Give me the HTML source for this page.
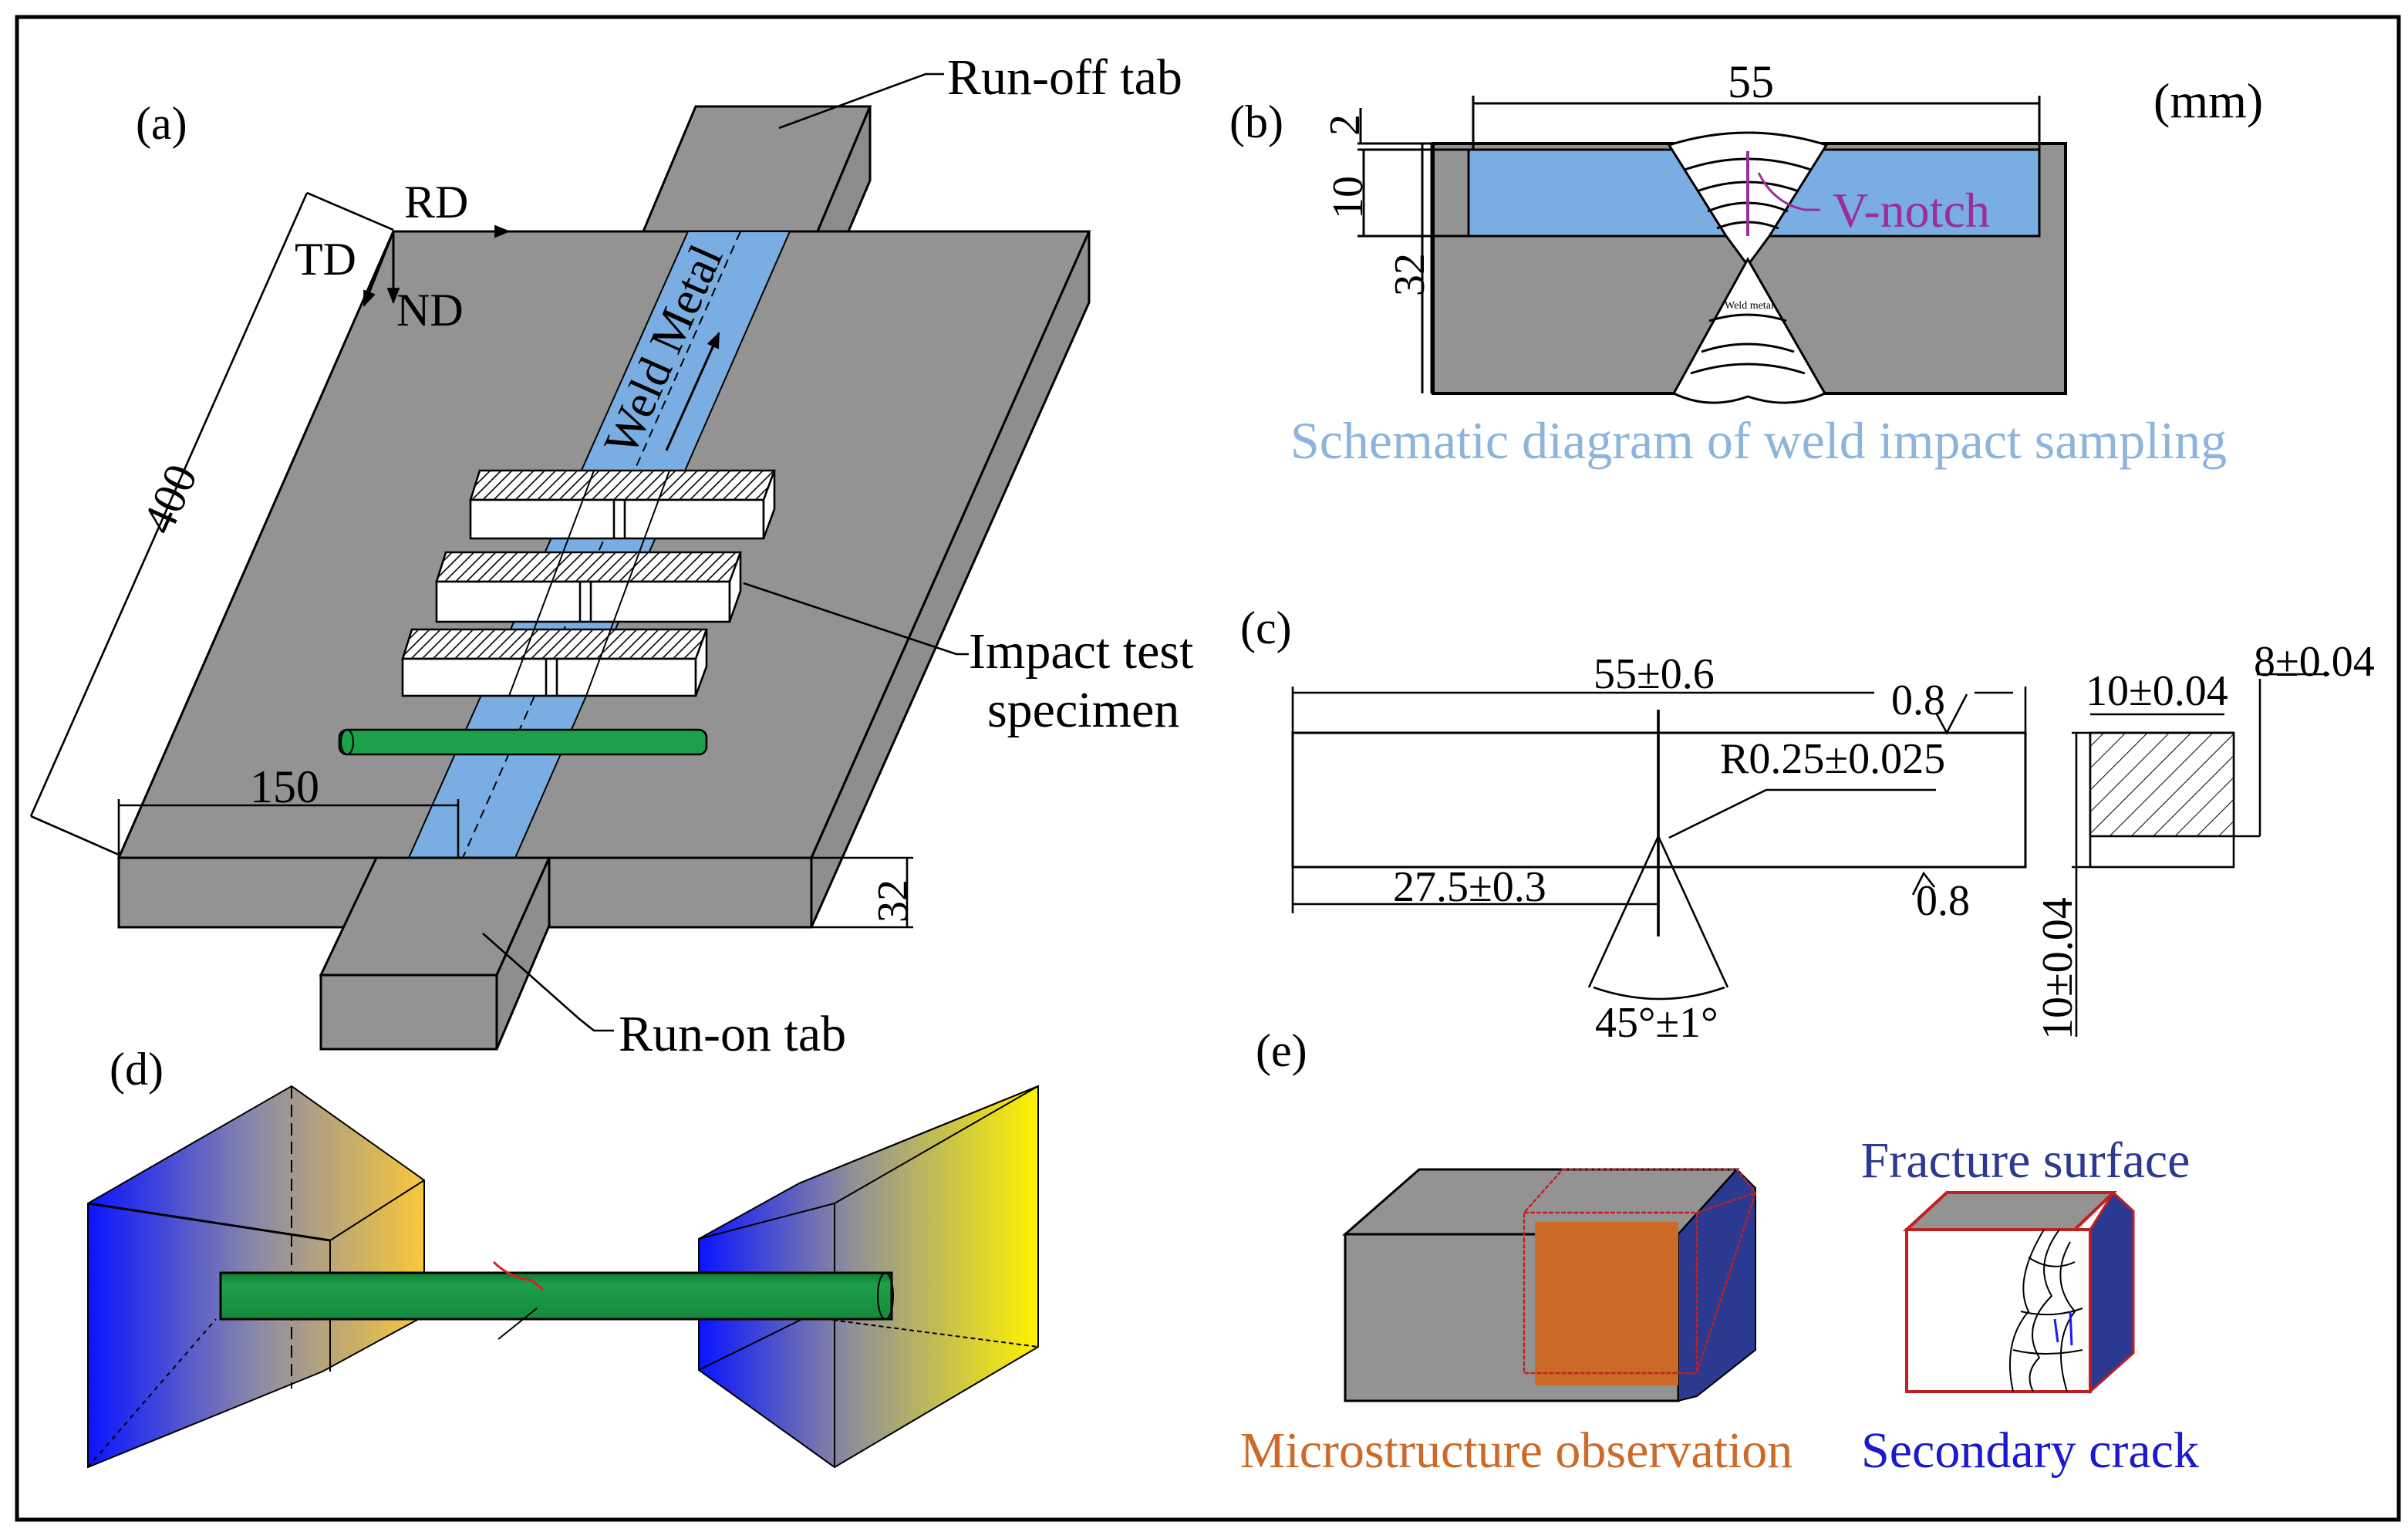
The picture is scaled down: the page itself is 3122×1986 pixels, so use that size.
<!DOCTYPE html>
<html><head><meta charset="utf-8"><style>
html,body{margin:0;padding:0;background:#fff}
svg{display:block}
text{font-family:"Liberation Serif",serif;}
</style></head><body>
<svg width="3122" height="1986" viewBox="0 0 1561 993" xmlns="http://www.w3.org/2000/svg">
<defs>
<pattern id="h" width="5" height="5" patternUnits="userSpaceOnUse" patternTransform="rotate(45)"><rect width="5" height="5" fill="#fff"/><line x1="0" y1="0" x2="0" y2="5" stroke="#000" stroke-width="1.6"/></pattern>
<pattern id="h2" width="10" height="10" patternUnits="userSpaceOnUse" patternTransform="rotate(45)"><rect width="10" height="10" fill="#fff"/><line x1="0" y1="0" x2="0" y2="10" stroke="#000" stroke-width="1"/></pattern>
<linearGradient id="g1" x1="0" x2="1" y1="0" y2="0"><stop offset="0" stop-color="#0a14ff"/><stop offset="0.5" stop-color="#8a8aa8"/><stop offset="1" stop-color="#f8c83a"/></linearGradient>
<linearGradient id="g2" x1="0" x2="1" y1="0" y2="0"><stop offset="0" stop-color="#0a14ff"/><stop offset="0.45" stop-color="#8f8f9a"/><stop offset="1" stop-color="#fff200"/></linearGradient>
<linearGradient id="rod" x1="0" x2="0" y1="0" y2="1"><stop offset="0" stop-color="#0f7a30"/><stop offset="0.25" stop-color="#1da04a"/><stop offset="1" stop-color="#168a3c"/></linearGradient>
<marker id="ar" viewBox="0 0 10 10" refX="9" refY="5" markerWidth="7" markerHeight="7" orient="auto"><path d="M0,1 L10,5 L0,9 z" fill="#000"/></marker>
</defs>
<rect x="11" y="11" width="1544" height="974" fill="#fff" stroke="#000" stroke-width="2.5"/>

<!-- (a) -->
<text x="88" y="90" font-size="30">(a)</text>
<polygon points="451,69 564,69 530,150 417,150" fill="#939393" stroke="#000" stroke-width="1.5"/>
<polygon points="564,69 564,117 550,150 530,150" fill="#8c8c8c" stroke="#000" stroke-width="1.5"/>
<polygon points="255,150 706,150 526,556 77,556" fill="#939393" stroke="#000" stroke-width="1.5"/>
<polygon points="706,150 706,196 526,601 526,556" fill="#8e8e8e" stroke="#000" stroke-width="1.5"/>
<rect x="77" y="556" width="449" height="45" fill="#939393" stroke="#000" stroke-width="1.5"/>
<polygon points="446,150 512,150 334,556 265,556" fill="#7aaee2" stroke="#000" stroke-width="1"/>
<line x1="480" y1="150" x2="300" y2="556" stroke="#000" stroke-width="1" stroke-dasharray="6,4"/>
<text transform="translate(410,297) rotate(-66)" font-size="31">Weld Metal</text>
<line x1="432" y1="292" x2="466" y2="216" stroke="#000" stroke-width="1.5" marker-end="url(#ar)"/>
<g stroke="#000" stroke-width="1.3">
<polygon points="311,305 502,305 496,324 305,324" fill="url(#h)"/>
<rect x="305" y="324" width="190" height="25" fill="#fff"/>
<polygon points="502,305 502,330 495,349 495,324" fill="#fff"/>
<line x1="398" y1="324" x2="398" y2="349"/><line x1="405" y1="324" x2="405" y2="349"/>
<polygon points="289,358 480,358 474,377 283,377" fill="url(#h)"/>
<rect x="283" y="377" width="190" height="26" fill="#fff"/>
<polygon points="480,358 480,383 473,403 473,377" fill="#fff"/>
<line x1="376" y1="377" x2="376" y2="403"/><line x1="383" y1="377" x2="383" y2="403"/>
<polygon points="267,408 458,408 452,427 261,427" fill="url(#h)"/>
<rect x="261" y="427" width="190" height="24" fill="#fff"/>
<polygon points="458,408 458,432 451,451 451,427" fill="#fff"/>
<line x1="354" y1="427" x2="354" y2="451"/><line x1="361" y1="427" x2="361" y2="451"/>
</g>
<g stroke="#000" stroke-width="1"><line x1="385" y1="305" x2="330" y2="451"/><line x1="434" y1="305" x2="380" y2="451"/></g>
<rect x="220" y="473" width="238" height="16" rx="5" fill="#1da04a" stroke="#000" stroke-width="1.3"/>
<ellipse cx="225" cy="481" rx="4" ry="8" fill="none" stroke="#000"/>
<polygon points="244,556 356,556 322,632 208,632" fill="#939393" stroke="#000" stroke-width="1.5"/>
<polygon points="356,556 356,600 322,680 322,632" fill="#8e8e8e" stroke="#000" stroke-width="1.5"/>
<rect x="208" y="632" width="114" height="48" fill="#939393" stroke="#000" stroke-width="1.5"/>
<g stroke="#000" stroke-width="1.3" fill="none">
<line x1="199" y1="125" x2="20" y2="529"/>
<line x1="199" y1="125" x2="255" y2="149"/>
<line x1="20" y1="529" x2="77" y2="554"/>
<line x1="77" y1="522" x2="297" y2="522"/>
<line x1="77" y1="518" x2="77" y2="556"/><line x1="297" y1="518" x2="297" y2="556"/>
<line x1="526" y1="556" x2="592" y2="556"/><line x1="526" y1="601" x2="592" y2="601"/>
<line x1="588" y1="556" x2="588" y2="601"/>
<line x1="255" y1="150" x2="330" y2="150" stroke-width="1.5" marker-end="url(#ar)"/>
<line x1="255" y1="150" x2="255" y2="196" stroke-width="1.5" marker-end="url(#ar)"/>
<line x1="255" y1="150" x2="236" y2="198" stroke-width="1.5" marker-end="url(#ar)"/>
<polyline points="505,83 600,48 612,48"/>
<polyline points="482,378 620,424 628,424"/>
<polyline points="313,605 375,660 385,668 398,668"/>
</g>
<text transform="translate(110,348) rotate(-66)" font-size="30">400</text>
<text x="162" y="520" font-size="30">150</text>
<text transform="translate(588,598) rotate(-90)" font-size="28">32</text>
<text x="262" y="141" font-size="30">RD</text>
<text x="191" y="178" font-size="30">TD</text>
<text x="257" y="211" font-size="30">ND</text>
<text x="614" y="61" font-size="33">Run-off tab</text>
<text x="628" y="433" font-size="33">Impact test</text>
<text x="640" y="471" font-size="33">specimen</text>
<text x="401" y="681" font-size="33">Run-on tab</text>

<!-- (b) -->
<text x="797" y="89" font-size="30">(b)</text>
<text x="1396" y="76" font-size="32">(mm)</text>
<rect x="929" y="93" width="410" height="162" fill="#939393" stroke="#000" stroke-width="2"/>
<rect x="952" y="97" width="370" height="56" fill="#7aaee2" stroke="#000" stroke-width="1.5"/>
<g stroke="#000" stroke-width="1.5" fill="#fff">
<path d="M1082,94 Q1133,78 1184,94 L1147,153 L1133,172 L1119,153 Z"/>
<path d="M1133,168 L1183,255 Q1160,266 1133,257 Q1108,266 1085,255 Z"/>
</g>
<g stroke="#000" stroke-width="1.5" fill="none">
<path d="M1092,110 Q1133,96 1174,110"/><path d="M1100,124 Q1133,112 1166,124"/>
<path d="M1107,137 Q1133,126 1159,137"/><path d="M1113,148 Q1133,140 1153,148"/>
<path d="M1103,228 Q1133,218 1163,228"/><path d="M1096,242 Q1133,230 1170,242"/>
<path d="M1108,208 Q1133,200 1158,208"/>
<line x1="955" y1="67" x2="1322" y2="67"/><line x1="955" y1="62" x2="955" y2="97"/><line x1="1322" y1="62" x2="1322" y2="97"/>
<line x1="880" y1="93" x2="929" y2="93"/><line x1="880" y1="97" x2="952" y2="97"/><line x1="880" y1="153" x2="952" y2="153"/>
<line x1="884" y1="97" x2="884" y2="153"/><line x1="882" y1="70" x2="882" y2="93"/>
<line x1="922" y1="93" x2="922" y2="255"/><line x1="928" y1="93" x2="928" y2="255"/>
</g>
<text x="1118" y="200" font-size="7">Weld metal</text>
<line x1="1133" y1="98" x2="1133" y2="153" stroke="#9b2d9b" stroke-width="2"/>
<path d="M1140,112 Q1150,132 1170,136 L1180,136" stroke="#9b2d9b" stroke-width="1.5" fill="none"/>
<text x="1188" y="147" font-size="32" fill="#9b2d9b">V-notch</text>
<text x="1120" y="63" font-size="30">55</text>
<text transform="translate(881,88) rotate(-90)" font-size="28">2</text>
<text transform="translate(883,142) rotate(-90)" font-size="28">10</text>
<text transform="translate(923,192) rotate(-90)" font-size="28">32</text>
<text x="1140" y="297" font-size="34" fill="#8cb4dc" text-anchor="middle">Schematic diagram of weld impact sampling</text>

<!-- (c) -->
<text x="804" y="417" font-size="30">(c)</text>
<rect x="838" y="475" width="475" height="87" fill="#fff" stroke="#000" stroke-width="1.5"/>
<g stroke="#000" stroke-width="1.3" fill="none">
<line x1="838" y1="449" x2="1215" y2="449"/><line x1="1280" y1="449" x2="1305" y2="449"/>
<line x1="838" y1="445" x2="838" y2="475"/><line x1="1313" y1="445" x2="1313" y2="475"/>
<line x1="1075" y1="460" x2="1075" y2="607" stroke-width="1.8"/>
<line x1="1075" y1="542" x2="1030" y2="640"/><line x1="1075" y1="542" x2="1120" y2="640"/>
<path d="M1033,640 Q1076,655 1118,640"/>
<polyline points="1255,512 1145,512 1082,543"/>
<line x1="838" y1="586" x2="1075" y2="586"/><line x1="838" y1="562" x2="838" y2="592"/>
<path d="M1255,462 L1262,475 L1275,450"/>
<path d="M1240,580 L1247,566 L1254,575"/>
<rect x="1355" y="475" width="93" height="87" fill="#fff"/>
<rect x="1355" y="475" width="93" height="67" fill="url(#h2)"/>
<line x1="1355" y1="463" x2="1442" y2="463"/>
<line x1="1343" y1="475" x2="1448" y2="475"/><line x1="1343" y1="562" x2="1355" y2="562"/>
<line x1="1346" y1="475" x2="1346" y2="672"/>
<line x1="1465" y1="440" x2="1465" y2="542"/><line x1="1463" y1="437" x2="1510" y2="437"/>
<line x1="1448" y1="542" x2="1465" y2="542"/>
</g>
<text x="1033" y="446" font-size="28">55±0.6</text>
<text x="1226" y="463" font-size="28">0.8</text>
<text x="1115" y="501" font-size="28">R0.25±0.025</text>
<text x="903" y="584" font-size="28">27.5±0.3</text>
<text x="1242" y="593" font-size="28">0.8</text>
<text x="1034" y="672" font-size="28">45°±1°</text>
<text x="1352" y="457" font-size="28">10±0.04</text>
<text x="1461" y="438" font-size="28">8±0.04</text>
<text transform="translate(1343,674) rotate(-90)" font-size="28">10±0.04</text>

<!-- (d) -->
<text x="71" y="703" font-size="30">(d)</text>
<polygon points="57,780 189,704 275,765 275,853 209,889 57,951" fill="url(#g1)" stroke="#000" stroke-width="1"/>
<g stroke="#000" stroke-width="1" fill="none">
<line x1="57" y1="780" x2="214" y2="804" stroke-width="1.5"/>
<line x1="214" y1="804" x2="275" y2="765"/>
<line x1="189" y1="704" x2="189" y2="900" stroke-dasharray="8,4"/>
<line x1="214" y1="804" x2="214" y2="889"/>
<line x1="57" y1="951" x2="140" y2="855" stroke-dasharray="3,3"/>
</g>
<polygon points="453,803 518,767 673,704 673,873 541,951 453,888" fill="url(#g2)" stroke="#000" stroke-width="1"/>
<g stroke="#000" stroke-width="1" fill="none">
<line x1="453" y1="803" x2="541" y2="780"/><line x1="541" y1="780" x2="673" y2="704"/>
<line x1="518" y1="767" x2="673" y2="704"/>
<line x1="541" y1="780" x2="541" y2="951"/>
<line x1="453" y1="888" x2="520" y2="855"/>
<line x1="535" y1="855" x2="673" y2="873" stroke-dasharray="3,2"/>
</g>
<rect x="143" y="825" width="435" height="30" fill="url(#rod)" stroke="#000" stroke-width="1.5"/>
<ellipse cx="574" cy="840" rx="5" ry="15" fill="none" stroke="#000"/>
<path d="M320,818 Q330,828 345,830 L352,836" stroke="#d42020" stroke-width="1.5" fill="none"/>
<line x1="323" y1="868" x2="348" y2="848" stroke="#000"/>

<!-- (e) -->
<text x="814" y="691" font-size="30">(e)</text>
<polygon points="920,758 1126,758 1088,800 872,800" fill="#939393" stroke="#000" stroke-width="1.5"/>
<rect x="872" y="800" width="216" height="108" fill="#939393" stroke="#000" stroke-width="1.5"/>
<polygon points="1126,758 1138,770 1138,875 1100,905 1088,908 1088,800" fill="#2b3990" stroke="#000" stroke-width="1"/>
<rect x="995" y="792" width="93" height="106" fill="#cc6a28"/>
<g stroke="#c02020" stroke-width="1.2" fill="none" stroke-dasharray="3,1">
<polygon points="1013,758 1126,758 1138,773 1100,890 988,890 988,786 1013,758"/>
<line x1="988" y1="786" x2="1100" y2="786"/><line x1="1100" y1="786" x2="1138" y2="773"/>
<line x1="1100" y1="786" x2="1100" y2="890"/>
</g>
<polygon points="1262,773 1370,773 1345,797 1236,797" fill="#939393" stroke="#c02020" stroke-width="2"/>
<rect x="1236" y="797" width="119" height="105" fill="#fff" stroke="#c02020" stroke-width="2"/>
<polygon points="1370,773 1383,785 1383,877 1355,902 1355,797" fill="#2b3990" stroke="#c02020" stroke-width="1.5"/>
<g stroke="#000" stroke-width="1" fill="none">
<path d="M1325,797 Q1305,830 1315,850 Q1298,870 1305,902"/>
<path d="M1335,797 Q1318,820 1330,840 Q1310,860 1322,880 Q1312,890 1318,902"/>
<path d="M1342,805 Q1328,830 1345,850 Q1330,870 1340,902"/>
<path d="M1315,815 Q1330,825 1345,818"/><path d="M1310,850 Q1330,855 1350,848"/><path d="M1305,875 Q1325,880 1350,875"/>
</g>
<g stroke="#1a1aff" stroke-width="1.5"><line x1="1332" y1="855" x2="1334" y2="870"/><line x1="1342" y1="850" x2="1343" y2="872"/></g>
<text x="1313" y="763" font-size="33" fill="#2b3990" text-anchor="middle">Fracture surface</text>
<text x="983" y="951" font-size="33" fill="#cc6a28" text-anchor="middle">Microstructure observation</text>
<text x="1316" y="951" font-size="33" fill="#1a1acc" text-anchor="middle">Secondary crack</text>
</svg>
</body></html>
